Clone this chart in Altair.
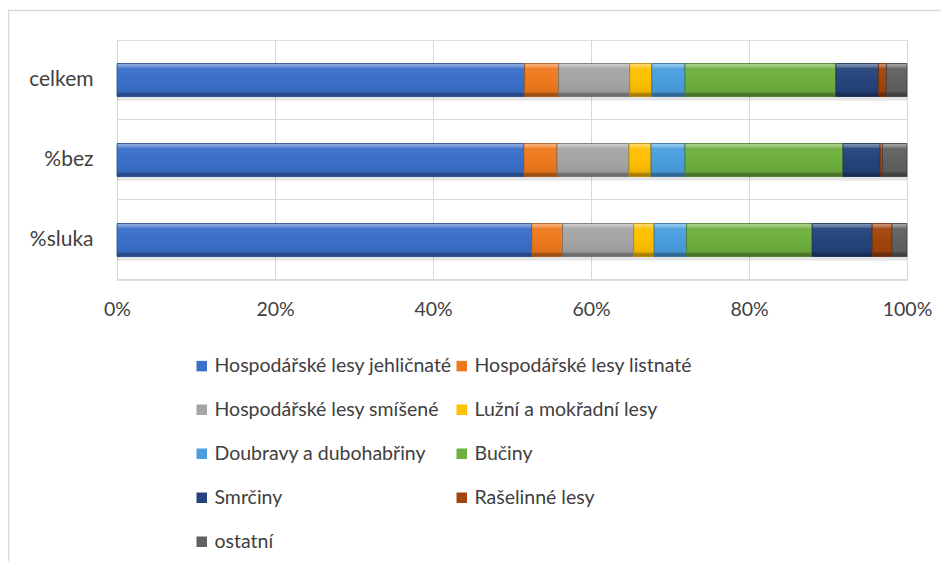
import altair as alt
import pandas as pd

categories = ["celkem", "%bez", "%sluka"]
series = [
    "Hospodářské lesy jehličnaté",
    "Hospodářské lesy listnaté",
    "Hospodářské lesy smíšené",
    "Lužní a mokřadní lesy",
    "Doubravy a dubohabřiny",
    "Bučiny",
    "Smrčiny",
    "Rašelinné lesy",
    "ostatní",
]
# percentages per series, in order: celkem, %bez, %sluka
v_jehlicnate = [51.6, 51.5, 52.5]
v_listnate = [4.3, 4.2, 3.9]
v_smisene = [9.0, 9.1, 9.0]
v_luzni = [2.8, 2.8, 2.6]
v_doubravy = [4.2, 4.3, 4.1]
v_buciny = [19.1, 20.0, 15.9]
v_smrciny = [5.4, 4.7, 7.6]
v_raselinne = [1.0, 0.3, 2.5]
v_ostatni = [2.6, 3.1, 1.9]
colors = ["#3a6fca", "#ef7a1e", "#a5a5a5", "#ffc000", "#4a9fdf",
          "#6fb040", "#25447c", "#a2450c", "#616161"]

all_vals = [v_jehlicnate, v_listnate, v_smisene, v_luzni, v_doubravy,
            v_buciny, v_smrciny, v_raselinne, v_ostatni]
rows = []
for si, (s, vals) in enumerate(zip(series, all_vals)):
    for c, v in zip(categories, vals):
        rows.append({"kategorie": c, "typ": s, "hodnota": v, "poradi": si})
df = pd.DataFrame(rows)

# legend is filled column by column: reorder so it reads row by row like the original
legend_order = [series[i] for i in range(0, len(series), 2)] + \
               [series[i] for i in range(1, len(series), 2)]
legend_colors = [colors[series.index(s)] for s in legend_order]


def shade(hex_color, f):
    h = hex_color.lstrip("#")
    r, g, b = (int(h[i:i + 2], 16) for i in (0, 2, 4))
    if f >= 0:
        r, g, b = (int(c + (255 - c) * f) for c in (r, g, b))
    else:
        r, g, b = (int(c * (1 + f)) for c in (r, g, b))
    return "#%02x%02x%02x" % (r, g, b)


font = "Lato"
fs = 19.5
base = alt.Chart(df).transform_stack(
    stack="hodnota", groupby=["kategorie"], as_=["x0", "x1"],
    sort=[alt.SortField("poradi", order="ascending")], offset="normalize")

yenc = alt.Y("kategorie:N", sort=categories, title=None,
             scale=alt.Scale(paddingInner=0.5875, paddingOuter=0.29375),
             axis=alt.Axis(labelFontSize=21, labelColor="#404040", labelPadding=24,
                           ticks=False, domain=False, grid=True, gridColor="#d9d9d9",
                           bandPosition=1.712, labelFont=font))
xenc = alt.X("x0:Q", title=None, scale=alt.Scale(domain=[0, 1]),
             axis=alt.Axis(format=".0%", values=[0, 0.2, 0.4, 0.6, 0.8, 1.0],
                           labelFontSize=fs, labelColor="#404040", labelPadding=20,
                           labelFlush=False, ticks=False, domain=False, grid=True,
                           gridColor="#d9d9d9", labelFont=font))

shadow = base.mark_bar(color="#000000", opacity=0.10, yOffset=4).encode(
    y=alt.Y("kategorie:N", sort=categories), x="x0:Q", x2="x1:Q")

bars = base.mark_bar().encode(
    y=yenc, x=xenc, x2="x1:Q",
    color=alt.Color("typ:N",
                    scale=alt.Scale(domain=legend_order, range=legend_colors),
                    legend=alt.Legend(title=None, orient="none", legendX=75, legendY=316,
                                      columns=2, columnPadding=0, rowPadding=23,
                                      symbolType="square", symbolSize=110,
                                      symbolStrokeWidth=0, labelFontSize=fs,
                                      labelColor="#404040", labelFont=font,
                                      labelLimit=400, labelOffset=3)),
)

layers = [shadow, bars]
for s, c in zip(series, colors):
    grad = alt.Gradient(
        gradient="linear", x1=0, x2=0, y1=0, y2=1,
        stops=[
            alt.GradientStop(color=shade(c, 0.45), offset=0),
            alt.GradientStop(color=shade(c, 0.25), offset=0.11),
            alt.GradientStop(color=shade(c, 0.05), offset=0.14),
            alt.GradientStop(color=c, offset=0.5),
            alt.GradientStop(color=shade(c, -0.06), offset=0.86),
            alt.GradientStop(color=shade(c, -0.28), offset=0.9),
            alt.GradientStop(color=shade(c, -0.38), offset=1),
        ],
    )
    layers.append(
        base.transform_filter(alt.datum.typ == s)
        .mark_bar(color=grad, stroke=shade(c, -0.3), strokeWidth=0.8)
        .encode(y=alt.Y("kategorie:N", sort=categories), x="x0:Q", x2="x1:Q")
    )

frame_data = alt.Data(values=[{"a": 1}])
frame_top = alt.Chart(frame_data).mark_rule(color="#d9d9d9", strokeWidth=1.5).encode(
    x=alt.value(-108.5), x2=alt.value(900), y=alt.value(-29.5))
frame_left = alt.Chart(frame_data).mark_rule(color="#d9d9d9", strokeWidth=1.5).encode(
    x=alt.value(-108.5), y=alt.value(-29.5), y2=alt.value(600))
layers += [frame_top, frame_left]

chart = alt.layer(*layers).properties(
    width=790, height=240,
    autosize=alt.AutoSizeParams(type="none"),
    padding={"left": 109, "top": 32, "right": 34, "bottom": 281},
).configure_view(stroke="#b3b3b3", strokeWidth=1.2).configure(font=font)

chart.save("out.html", embed_options={"renderer": "svg", "actions": False})
